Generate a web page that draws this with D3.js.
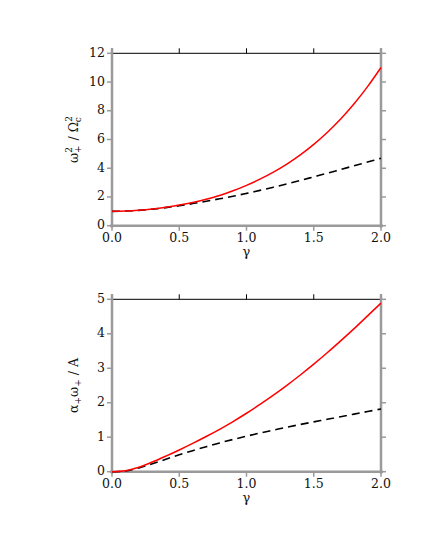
<!DOCTYPE html>
<html>
<head>
<meta charset="utf-8">
<script src="https://cdn.jsdelivr.net/npm/d3@7"></script>
<style>
  body { margin: 0; background: #fff; }
  text { font-family: "DejaVu Serif", serif; fill: #111; }
</style>
</head>
<body>
<div id="chart"></div>
<script>
// gamma values shared by both panels
let gamma = [0.0, 0.1, 0.2, 0.3, 0.4, 0.5, 0.6, 0.7, 0.8, 0.9, 1.0,
             1.1, 1.2, 1.3, 1.4, 1.5, 1.6, 1.7, 1.8, 1.9, 2.0];

// top panel: omega+^2 / Omega_c^2
let topRed = [1.00, 1.02, 1.08, 1.17, 1.29, 1.44, 1.62, 1.84, 2.10, 2.43, 2.81,
              3.24, 3.73, 4.29, 4.93, 5.66, 6.49, 7.43, 8.49, 9.68, 11.01];
let topDash = [1.00, 1.02, 1.07, 1.15, 1.26, 1.39, 1.54, 1.70, 1.87, 2.05, 2.25,
               2.46, 2.68, 2.91, 3.15, 3.40, 3.65, 3.91, 4.17, 4.43, 4.69];

// bottom panel: alpha+ omega+ / A
let botRed = [0.00, 0.03, 0.13, 0.28, 0.45, 0.63, 0.82, 1.02, 1.23, 1.455, 1.695,
              1.95, 2.22, 2.505, 2.805, 3.12, 3.45, 3.795, 4.15, 4.52, 4.89];
let botDash = [0.00, 0.02, 0.11, 0.23, 0.36, 0.49, 0.61, 0.725, 0.835, 0.935, 1.03,
               1.12, 1.205, 1.29, 1.37, 1.445, 1.52, 1.595, 1.67, 1.745, 1.82];

// tick labels
let xTicks = [0, 0.5, 1.0, 1.5, 2.0];
let topYTicks = [0, 2, 4, 6, 8, 10, 12];
let botYTicks = [0, 1, 2, 3, 4, 5];

let svgWidth = 425;
let svgHeight = 550;

let svg = d3.select("#chart")
  .append("svg")
  .attr("width", svgWidth)
  .attr("height", svgHeight);

let left = 112, right = 381;
let axisGray = "#9a9a9a";
let tickLen = 5;

function drawPanel(top, bottom, yMax, yTicks, redVals, dashVals, labelParts) {
  let x = d3.scaleLinear().domain([0, 2]).range([left, right]);
  let y = d3.scaleLinear().domain([0, yMax]).range([bottom, top]);

  let g = svg.append("g");

  // top frame line (thin black) with outward ticks
  g.append("line")
    .attr("x1", left).attr("x2", right)
    .attr("y1", top).attr("y2", top)
    .attr("stroke", "#000").attr("stroke-width", 1);
  g.selectAll(".ttick").data(xTicks).enter().append("line")
    .attr("x1", d => x(d)).attr("x2", d => x(d))
    .attr("y1", top).attr("y2", top - tickLen)
    .attr("stroke", "#000").attr("stroke-width", 1);

  // gray bottom, left, right axes
  g.append("line")
    .attr("x1", left - 2).attr("x2", right + 2)
    .attr("y1", bottom).attr("y2", bottom)
    .attr("stroke", axisGray).attr("stroke-width", 2.5);
  g.append("line")
    .attr("x1", left).attr("x2", left)
    .attr("y1", top - tickLen).attr("y2", bottom + 2)
    .attr("stroke", axisGray).attr("stroke-width", 2.5);
  g.append("line")
    .attr("x1", right).attr("x2", right)
    .attr("y1", top - tickLen).attr("y2", bottom + 2)
    .attr("stroke", axisGray).attr("stroke-width", 2.5);

  // bottom ticks
  g.selectAll(".btick").data(xTicks).enter().append("line")
    .attr("x1", d => x(d)).attr("x2", d => x(d))
    .attr("y1", bottom).attr("y2", bottom + tickLen)
    .attr("stroke", axisGray).attr("stroke-width", 1.5);

  // left and right y ticks
  g.selectAll(".ltick").data(yTicks).enter().append("line")
    .attr("x1", left - tickLen).attr("x2", left)
    .attr("y1", d => y(d)).attr("y2", d => y(d))
    .attr("stroke", axisGray).attr("stroke-width", 1.5);
  g.selectAll(".rtick").data(yTicks).enter().append("line")
    .attr("x1", right).attr("x2", right + tickLen)
    .attr("y1", d => y(d)).attr("y2", d => y(d))
    .attr("stroke", axisGray).attr("stroke-width", 1.5);

  // tick labels
  g.selectAll(".xlab").data(xTicks).enter().append("text")
    .attr("x", d => x(d)).attr("y", bottom + 16)
    .attr("text-anchor", "middle")
    .attr("font-size", "12.5px")
    .text(d => d3.format(".1f")(d));
  g.selectAll(".ylab").data(yTicks).enter().append("text")
    .attr("x", left - 7).attr("y", d => y(d) + 3.5)
    .attr("text-anchor", "end")
    .attr("font-size", "12.5px")
    .text(d => d);

  // x axis label
  g.append("text")
    .attr("x", (left + right) / 2).attr("y", bottom + 30)
    .attr("text-anchor", "middle")
    .attr("font-size", "13px")
    .text("γ");

  // y axis label, built from parts with super/subscripts
  let ylab = g.append("text")
    .attr("transform", `translate(78, ${(top + bottom) / 2}) rotate(-90)`)
    .attr("text-anchor", "middle")
    .attr("font-size", "12.5px");
  labelParts.forEach(p => {
    ylab.append("tspan")
      .attr("dy", p.dy || 0)
      .attr("dx", p.dx || 0)
      .attr("font-size", p.small ? "9px" : "12.5px")
      .text(p.t);
  });

  let line = d3.line()
    .x((d, i) => x(gamma[i]))
    .y(d => y(d))
    .curve(d3.curveCatmullRom);

  g.append("path")
    .datum(dashVals)
    .attr("d", line)
    .attr("fill", "none")
    .attr("stroke", "#000")
    .attr("stroke-width", 1.6)
    .attr("stroke-dasharray", "8,5");

  g.append("path")
    .datum(redVals)
    .attr("d", line)
    .attr("fill", "none")
    .attr("stroke", "#ff0000")
    .attr("stroke-width", 1.5);
}

drawPanel(53.3, 225.7, 12, topYTicks, topRed, topDash, [
  {t: "ω"},
  {t: "2", small: true, dy: -6, dx: 0},
  {t: "+", small: true, dy: 9, dx: -6},
  {t: " / ", dy: -3, dx: 1},
  {t: "Ω"},
  {t: "2", small: true, dy: -6, dx: 0},
  {t: "c", small: true, dy: 9, dx: -6}
]);

drawPanel(299.3, 471.7, 5, botYTicks, botRed, botDash, [
  {t: "α"},
  {t: "+", small: true, dy: 3, dx: 0},
  {t: "ω", dy: -3},
  {t: "+", small: true, dy: 3, dx: 0},
  {t: " / A", dy: -3}
]);
</script>
</body>
</html>
